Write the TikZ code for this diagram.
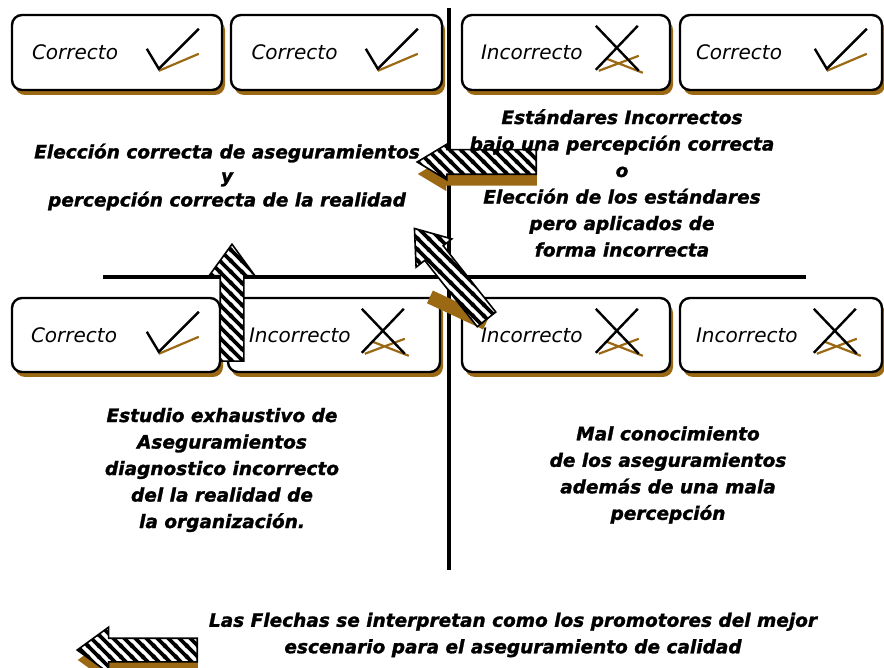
\documentclass[tikz,border=0pt]{standalone}
\usepackage{fontspec}
\setmainfont{DejaVu Sans}
\newfontface\negrita{DejaVu Sans Bold Oblique}[FakeBold=1.4]
\usepackage{tikz}
\usetikzlibrary{calc,shapes.arrows,shadows,patterns}

\definecolor{marron}{RGB}{155,105,20}

\pgfdeclarepatternformonly{rayas}{\pgfqpoint{-2pt}{-2pt}}{\pgfqpoint{13pt}{13pt}}{\pgfqpoint{11pt}{11pt}}{%
  \pgfsetlinewidth{3.6pt}
  \pgfpathmoveto{\pgfqpoint{-1pt}{12pt}}\pgfpathlineto{\pgfqpoint{12pt}{-1pt}}
  \pgfpathmoveto{\pgfqpoint{-1pt}{1pt}}\pgfpathlineto{\pgfqpoint{1pt}{-1pt}}
  \pgfpathmoveto{\pgfqpoint{10pt}{12pt}}\pgfpathlineto{\pgfqpoint{12pt}{10pt}}
  \pgfusepath{stroke}}

\tikzset{
  caja/.style={draw=black,line width=2.4pt,rounded corners=10pt,fill=white,
    minimum height=75pt,text width=170pt,inner xsep=8pt,align=left,
    font=\fontsize{20}{24}\selectfont\itshape,
    drop shadow={shadow xshift=3pt,shadow yshift=-5pt,fill=marron,opacity=1}},
  flechabase/.style={single arrow,inner xsep=0pt,inner ysep=11pt,minimum width=44pt,
    single arrow head extend=11pt,single arrow tip angle=72,anchor=tail},
  flecha/.style={flechabase,draw=black,line width=1.6pt,preaction={fill=white},pattern=rayas},
  sombra/.style={flechabase,fill=marron},
  texto/.style={font=\fontsize{18.5}{26.5}\negrita,align=center,inner sep=0pt}
}

% marcas de las cajas
\newcommand{\marcabien}[1]{%
  \draw[marron,line width=2.2pt]($(#1.north west)+(148,57)$)--($(#1.north west)+(188,40)$);
  \draw[line width=2.4pt]($(#1.north west)+(136,35)$)--($(#1.north west)+(148,55)$)--($(#1.north west)+(188,15)$);}
\newcommand{\marcamal}[1]{%
  \draw[marron,line width=2.2pt]($(#1.north west)+(138,57)$)--($(#1.north west)+(178,42)$)
    ($(#1.north west)+(146,45)$)--($(#1.north west)+(182,59)$);
  \draw[line width=2.4pt]($(#1.north west)+(135,12)$)--($(#1.north west)+(178,57)$)
    ($(#1.north west)+(177,12)$)--($(#1.north west)+(135,56)$);}

\begin{document}
\begin{tikzpicture}[x=1pt,y=-1pt]
\fill[white](0,0)rectangle(884,668);
\clip(0,0)rectangle(884,668);

% ejes
\draw[line width=4.5pt](449,8)--(449,570);
\draw[line width=4pt](103,277)--(806,277);

% cajas de arriba
\node[caja,minimum width=210pt](b1) at (117,52.5){Correcto};
\node[caja,minimum width=211pt](b2) at (336.5,52.5){Correcto};
\node[caja,minimum width=208pt](b3) at (566,52.5){Incorrecto};
\node[caja,minimum width=202pt](b4) at (781,52.5){Correcto};
\marcabien{b1}
\marcabien{b2}
\marcamal{b3}
\marcabien{b4}

% cajas de abajo
\node[caja,minimum width=208pt,minimum height=74pt](c1) at (116,335){Correcto};
\node[caja,minimum width=212pt,minimum height=74pt](c2) at (334,335){Incorrecto};
\node[caja,minimum width=208pt,minimum height=74pt](c3) at (566,335){Incorrecto};
\node[caja,minimum width=202pt,minimum height=74pt](c4) at (781,335){Incorrecto};
\marcabien{c1}
\marcamal{c2}
\marcamal{c3}
\marcamal{c4}

% flechas
\node[flecha,rotate=90,minimum height=117pt](f1) at (232,362){};
\node[fill=marron,rotate=155,minimum width=62pt,minimum height=14pt,inner sep=0pt](s2) at (458,310){};
\node[flecha,rotate=128.4,minimum height=116pt](f2) at (487,320){};
\node[sombra,rotate=180,minimum height=119pt,minimum width=34pt,inner ysep=11.5pt,single arrow head extend=5.5pt,single arrow tip angle=62](s3) at (537,174){};
\node[flecha,rotate=180,minimum height=119pt,minimum width=34pt,inner ysep=11.5pt,single arrow head extend=5.5pt,single arrow tip angle=62](f3) at (537,162){};
\node[sombra,rotate=180,minimum height=120pt](s4) at (198,660){};
\node[flecha,rotate=180,minimum height=120pt](f4) at (198,650){};

% textos
\node[texto,font=\fontsize{18.5}{24}\negrita](t1) at (227,177){Elección correcta de aseguramientos\\y\\percepción correcta de la realidad};
\node[texto](t2) at (622,183){Estándares Incorrectos\\bajo una percepción correcta\\o\\Elección de los estándares\\pero aplicados de\\forma incorrecta};
\node[texto](t3) at (222,470){Estudio  exhaustivo de\\Aseguramientos\\diagnostico incorrecto\\del la realidad de\\la organización.};
\node[texto](t4) at (668,475){Mal conocimiento\\de los aseguramientos\\además de una mala\\percepción};
\node[texto](t5) at (513,635){Las Flechas se interpretan como los promotores del mejor\\escenario para el aseguramiento de calidad};
\end{tikzpicture}
\end{document}
